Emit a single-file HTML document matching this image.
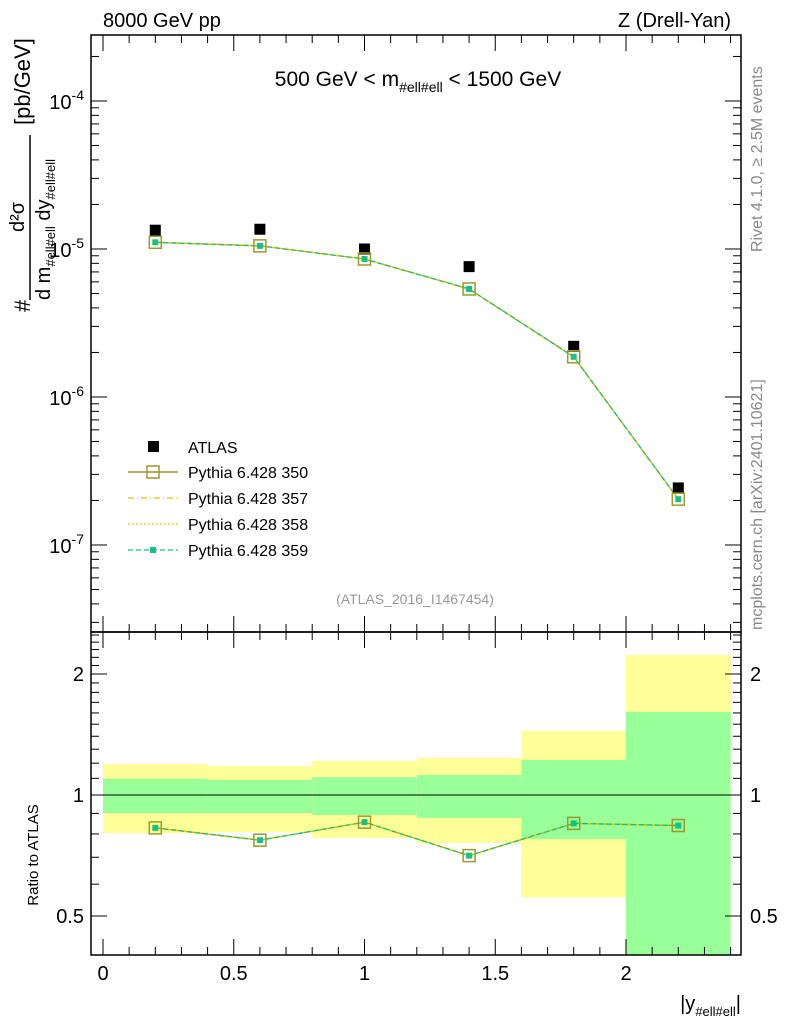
<!DOCTYPE html>
<html><head><meta charset="utf-8"><style>
body{margin:0;background:#fff;}
svg{display:block;font-family:"Liberation Sans",sans-serif;}
</style></head><body>
<svg id="c" width="786" height="1024" viewBox="0 0 786 1024">
<g id="bands"></g>
<g id="g"></g>
<text x="103" y="27" font-size="20">8000 GeV pp</text>
<text x="731" y="27" font-size="20" text-anchor="end">Z (Drell-Yan)</text>
<text x="418" y="86" font-size="21" text-anchor="middle">500 GeV &lt; m<tspan font-size="14" dy="6">#ell#ell</tspan><tspan dy="-6"> &lt; 1500 GeV</tspan></text>
<text x="415" y="604" font-size="14" fill="#999" text-anchor="middle">(ATLAS_2016_I1467454)</text>
<text transform="translate(762,252) rotate(-90)" font-size="16" fill="#888">Rivet 4.1.0, ≥ 2.5M events</text>
<text transform="translate(762,630) rotate(-90)" font-size="16" fill="#888">mcplots.cern.ch [arXiv:2401.10621]</text>
<g font-size="22">
<text transform="translate(30,312) rotate(-90)">#</text>
<text transform="translate(24,232) rotate(-90)" font-size="20">d²σ</text>
<line x1="30" y1="300" x2="30" y2="135" stroke="#000" stroke-width="1.5"/>
<text transform="translate(50,300) rotate(-90)" font-size="20">d m<tspan font-size="13" dy="5">#ell#ell</tspan><tspan dy="-5"> dy</tspan><tspan font-size="13" dy="5">#ell#ell</tspan></text>
<text transform="translate(30,125) rotate(-90)">[pb/GeV]</text>
</g>
<text transform="translate(38,855) rotate(-90)" font-size="15" text-anchor="middle">Ratio to ATLAS</text>
<text x="741" y="1010" font-size="20" text-anchor="end">|y<tspan font-size="13" dy="6">#ell#ell</tspan><tspan dy="-6">|</tspan></text>
<g font-size="16">
<rect x="148" y="441" width="11" height="11" fill="#000"/>
<text x="188" y="453">ATLAS</text>
<line x1="128" y1="472" x2="178" y2="472" stroke="#9a9a2a" stroke-width="1.5"/><rect x="147" y="466" width="12" height="12" fill="none" stroke="#9a9a2a" stroke-width="1.5"/>
<text x="188" y="478">Pythia 6.428 350</text>
<line x1="128" y1="498" x2="178" y2="498" stroke="#e8c800" stroke-width="1.2" stroke-dasharray="6,3,1,3"/>
<text x="188" y="504">Pythia 6.428 357</text>
<line x1="128" y1="524" x2="178" y2="524" stroke="#d8d000" stroke-width="1.2" stroke-dasharray="2,2"/>
<text x="188" y="530">Pythia 6.428 358</text>
<line x1="128" y1="550" x2="178" y2="550" stroke="#1bc07e" stroke-width="1.2" stroke-dasharray="5,3"/><rect x="150" y="547" width="6" height="6" fill="#1bc07e"/>
<text x="188" y="556">Pythia 6.428 359</text>
</g>
</svg>
<script>
const xs=[0.2,0.6,1.0,1.4,1.8,2.2];
const binLo=[0,0.4,0.8,1.2,1.6,2.0];
const binHi=[0.4,0.8,1.2,1.6,2.0,2.4];
const atlas=[1.34e-5,1.36e-5,1.0e-5,7.6e-6,2.2e-6,2.43e-7];
const mc=[1.11e-5,1.05e-5,8.56e-6,5.37e-6,1.87e-6,2.04e-7];
const yelHi=[1.194,1.18,1.215,1.236,1.443,2.23];
const yelLo=[0.804,0.809,0.782,0.76,0.557,0.3];
const grnHi=[1.096,1.09,1.108,1.121,1.222,1.61];
const grnLo=[0.902,0.902,0.892,0.877,0.777,0.3];
const xTicks=[0,0.5,1,1.5,2];
const xTickLabels=["0","0.5","1","1.5","2"];
const yDecades=[-7,-6,-5,-4];
const rTicks=[0.5,1,2];
const rTickLabels=["0.5","1","2"];

const L=91,R=741,T=35,M=632,B=955;
const X=v=>103+v*261.5;
const Y=v=>249-(Math.log10(v)+5)*148;
const RY=v=>Math.max(T,Math.min(B,795-Math.log10(v)*402));
const NS='http://www.w3.org/2000/svg';
const g=document.getElementById('g'),bg=document.getElementById('bands');
function mk(p,t,a){const e=document.createElementNS(NS,t);for(const k in a)e.setAttribute(k,a[k]);p.appendChild(e);return e;}

for(let i=0;i<xs.length;i++){
 const y=mk(bg,'rect',{x:X(binLo[i]),y:RY(yelHi[i]),width:X(binHi[i])-X(binLo[i]),height:RY(yelLo[i])-RY(yelHi[i]),fill:'#ffff99'});
 
 
 const gr=mk(bg,'rect',{x:X(binLo[i]),y:RY(grnHi[i]),width:X(binHi[i])-X(binLo[i]),height:RY(grnLo[i])-RY(grnHi[i]),fill:'#99ff99'});
 
 
}
mk(g,'line',{x1:L,x2:R,y1:RY(1),y2:RY(1),stroke:'#000','stroke-width':1});
mk(g,'rect',{x:L,y:T,width:R-L,height:M-T,fill:'none',stroke:'#000','stroke-width':1.5});
mk(g,'rect',{x:L,y:M,width:R-L,height:B-M,fill:'none',stroke:'#000','stroke-width':1.5});
for(let v=0;v<=2.41;v+=0.1){const big=Math.abs(v*2-Math.round(v*2))<1e-6;const l=big?16:8;
 for(const [y0,d] of [[M,-1],[T,1],[B,-1],[M,1]]) mk(g,'line',{x1:X(v),x2:X(v),y1:y0,y2:y0+d*l,stroke:'#000'});}
xTicks.forEach((v,i)=>{const t=mk(g,'text',{x:X(v),y:980,'font-size':20,'text-anchor':'middle'});t.textContent=xTickLabels[i];
 
 });
for(let d=-8;d<=-4;d++)for(let k=1;k<10;k++){const v=k*Math.pow(10,d);const y=Y(v);if(y<T||y>M)continue;const l=k==1?16:8;
 mk(g,'line',{x1:L,x2:L+l,y1:y,y2:y,stroke:'#000'});mk(g,'line',{x1:R,x2:R-l,y1:y,y2:y,stroke:'#000'});}
yDecades.forEach(d=>{const t=mk(g,'text',{x:84,y:Y(Math.pow(10,d))+8,'font-size':20,'text-anchor':'end'});
 t.innerHTML='10<tspan font-size="14" dy="-9">'+d+'</tspan>';
 
 });
for(let v=0.4;v<=2.55;v+=0.1){const y=RY(v);if(y<=M||y>=B)continue;const big=rTicks.some(r=>Math.abs(r-v)<1e-6);const l=big?16:8;
 mk(g,'line',{x1:L,x2:L+l,y1:y,y2:y,stroke:'#000'});mk(g,'line',{x1:R,x2:R-l,y1:y,y2:y,stroke:'#000'});}
rTicks.forEach((v,i)=>{const a=mk(g,'text',{x:84,y:RY(v)+7,'font-size':20,'text-anchor':'end'});a.textContent=rTickLabels[i];
 
 
 const b=mk(g,'text',{x:750,y:RY(v)+7,'font-size':20});b.textContent=rTickLabels[i];
 
 });
const pts=xs.map((x,i)=>X(x)+','+Y(mc[i])).join(' ');
const rpts=xs.map((x,i)=>X(x)+','+RY(mc[i]/atlas[i])).join(' ');
[['#9a9a2a','none'],['#e8c800','6,3,1,3'],['#d8d000','2,2'],['#1bc07e','5,3']].forEach(([c,da])=>{
 const l1=mk(g,'polyline',{points:pts,fill:'none',stroke:c,'stroke-width':1.3,'stroke-dasharray':da});
 
 
 const l2=mk(g,'polyline',{points:rpts,fill:'none',stroke:c,'stroke-width':1.3,'stroke-dasharray':da});
 
 });
xs.forEach((x,i)=>{
 const a=mk(g,'rect',{x:X(x)-5.5,y:Y(atlas[i])-5.5,width:11,height:11,fill:'#000'});
 
 
 for(const y of [Y(mc[i]),RY(mc[i]/atlas[i])]){
  const s=mk(g,'rect',{x:X(x)-6,y:y-6,width:12,height:12,fill:'none',stroke:'#9a9a2a','stroke-width':1.5});
  
  
  const p=mk(g,'rect',{x:X(x)-3,y:y-3,width:6,height:6,fill:'#1bc07e'});
  
  }
});
</script>
</body></html>
